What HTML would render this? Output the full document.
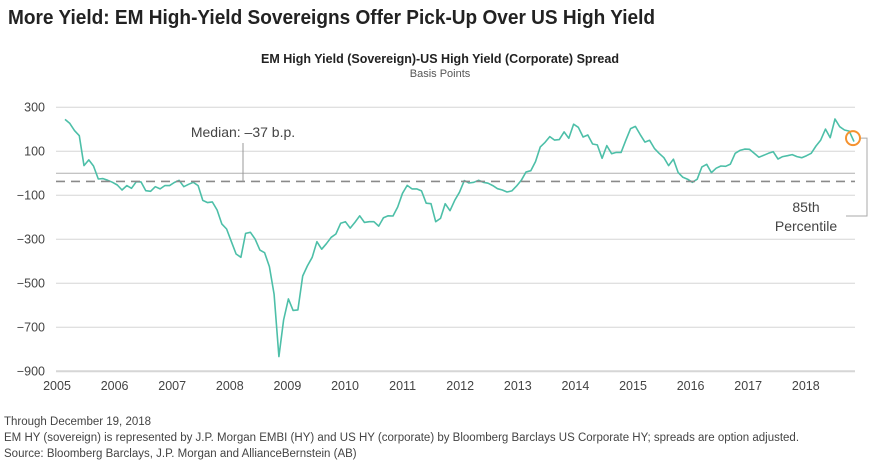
<!DOCTYPE html>
<html><head><meta charset="utf-8">
<style>
html,body{margin:0;padding:0;background:#fff;}
body{width:880px;height:460px;overflow:hidden;font-family:"Liberation Sans",sans-serif;}
svg text{font-family:"Liberation Sans",sans-serif;}
</style></head>
<body>
<svg id="chart" width="880" height="460" viewBox="0 0 880 460" xmlns="http://www.w3.org/2000/svg">
<text x="8" y="24" font-size="20" font-weight="bold" fill="#222" textLength="647" lengthAdjust="spacingAndGlyphs">More Yield: EM High-Yield Sovereigns Offer Pick-Up Over US High Yield</text>
<text x="440" y="63" font-size="13" font-weight="bold" fill="#222" text-anchor="middle" textLength="358" lengthAdjust="spacingAndGlyphs">EM High Yield (Sovereign)-US High Yield (Corporate) Spread</text>
<text x="440" y="77" font-size="11" fill="#555" text-anchor="middle">Basis Points</text>
<g id="grid"></g>
<g id="yaxis"></g>
<g id="xaxis"></g>
<g id="series"></g>
<g id="annot"></g>
<text x="4" y="425" font-size="11.5" fill="#444">Through December 19, 2018</text>
<text x="4" y="441" font-size="11.5" fill="#444">EM HY (sovereign) is represented by J.P. Morgan EMBI (HY) and US HY (corporate) by Bloomberg Barclays US Corporate HY; spreads are option adjusted.</text>
<text x="4" y="457" font-size="11.5" fill="#444">Source: Bloomberg Barclays, J.P. Morgan and AllianceBernstein (AB)</text>
</svg>
<script>
const yTicks = [300, 100, -100, -300, -500, -700, -900];
const yearLabels = ["2005","2006","2007","2008","2009","2010","2011","2012","2013","2014","2015","2016","2017","2018"];
const medianValue = -37;
const spread = [245,227,194,171,35,61,33,-26,-24,-32,-41,-53,-76,-56,-68,-38,-39,-79,-82,-61,
-71,-56,-56,-42,-32,-61,-50,-41,-56,-123,-133,-130,-167,-230,-253,-311,-367,-382,-273,-268,
-299,-349,-361,-424,-550,-833,-667,-571,-623,-621,-467,-421,-382,-311,-345,-320,-291,-276,-227,-220,
-249,-223,-193,-223,-220,-220,-240,-202,-193,-194,-153,-91,-55,-71,-71,-80,-136,-138,-220,
-205,-138,-170,-123,-86,-33,-44,-41,-32,-41,-45,-56,-70,-76,-85,-80,-58,-32,6,12,
53,120,141,167,151,153,188,159,223,209,165,174,133,129,68,126,89,95,95,151,
203,213,177,142,150,113,91,71,35,64,4,-18,-27,-41,-27,29,41,3,23,33,
32,42,91,104,110,109,91,73,82,91,98,65,76,80,85,76,71,80,91,124,
151,201,162,247,212,197,192,144];

const NS = "http://www.w3.org/2000/svg";
const X0 = 56, X1 = 855;
const yScale = v => 173.3 - v * 0.22;
const xIdx = i => 65 + i * (854 - 65) / (spread.length - 1);
const xYear = k => 57 + k * 57.6;
function mk(tag, attrs, parent){ const e = document.createElementNS(NS, tag); for (const k in attrs) e.setAttribute(k, attrs[k]); parent.appendChild(e); return e; }

const grid = document.getElementById('grid');
yTicks.forEach(v => {
  const l = mk('line', {x1:X0, x2:X1, y1:yScale(v), y2:yScale(v), stroke:'#d6d6d6', 'stroke-width': v === -900 ? 2 : 1}, grid);
  
  
});
const zl = mk('line', {x1:X0, x2:X1, y1:yScale(0), y2:yScale(0), stroke:'#b0b0b0', 'stroke-width':1}, grid);



const yaxis = document.getElementById('yaxis');
yTicks.forEach(v => {
  const t = mk('text', {x:45, y:yScale(v)+4, 'font-size':12.5, fill:'#444', 'text-anchor':'end'}, yaxis);
  t.textContent = v < 0 ? '\u2212' + Math.abs(v) : String(v);
  
  
});
const xaxis = document.getElementById('xaxis');
yearLabels.forEach((s, k) => {
  const t = mk('text', {x:xYear(k), y:390, 'font-size':12.5, fill:'#444', 'text-anchor':'middle'}, xaxis);
  t.textContent = s;
  
  
});

const annot = document.getElementById('annot');
const my = yScale(medianValue);
const med = mk('line', {x1:X0, x2:X1, y1:my, y2:my, stroke:'#8a8a8a', 'stroke-width':1.6, 'stroke-dasharray':'9,6'}, annot);


const ml = mk('line', {x1:243, x2:243, y1:143, y2:my, stroke:'#999', 'stroke-width':1}, annot);


const mt = mk('text', {x:243, y:137, 'font-size':14, fill:'#444', 'text-anchor':'middle'}, annot);
mt.textContent = 'Median: \u201337 b.p.';



const series = document.getElementById('series');
const pts = spread.map((v, i) => xIdx(i).toFixed(1) + ',' + yScale(v).toFixed(1)).join(' ');
const pl = mk('polyline', {points:pts, fill:'none', stroke:'#4dbfa8', 'stroke-width':1.6, 'stroke-linejoin':'round'}, series);



const cx = 853, cy = yScale(160);
const br = mk('polyline', {points:(cx+8)+','+cy+' 867,'+cy+' 867,216 846,216', fill:'none', stroke:'#aaa', 'stroke-width':1}, annot);


const c = mk('circle', {cx:cx, cy:cy, r:7, fill:'none', stroke:'#f5922f', 'stroke-width':2}, annot);


const p1 = mk('text', {x:806, y:212, 'font-size':14, fill:'#444', 'text-anchor':'middle'}, annot);
p1.textContent = '85th';


const p2 = mk('text', {x:806, y:231, 'font-size':14, fill:'#444', 'text-anchor':'middle'}, annot);
p2.textContent = 'Percentile';


</script>
</body></html>
